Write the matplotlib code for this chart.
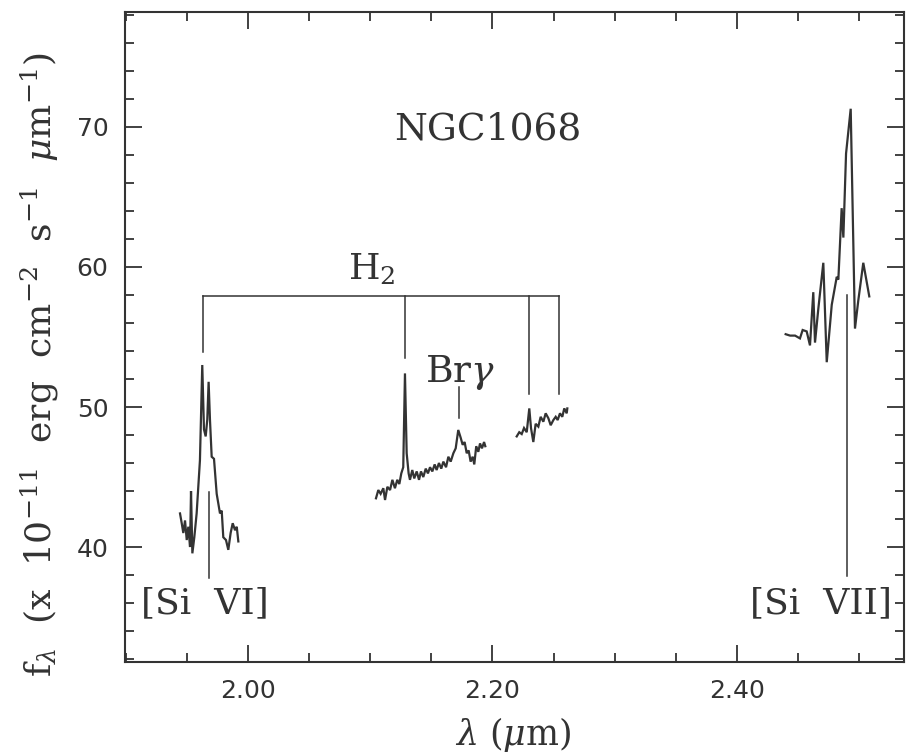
import matplotlib
matplotlib.use("Agg")
import matplotlib.pyplot as plt
from matplotlib.ticker import MultipleLocator, FixedLocator

plt.rcParams['mathtext.fontset'] = 'dejavuserif'
plt.rcParams['font.family'] = 'DejaVu Serif'

# ---- data ----
sivi_wl = [1.9444, 1.9458, 1.9471, 1.9485, 1.9499, 1.9512, 1.9526, 1.9534, 1.9545, 1.9561,
           1.9580, 1.9607, 1.9626, 1.9640, 1.9654, 1.9667, 1.9678, 1.9689, 1.9703, 1.9722,
           1.9744, 1.9771, 1.9785, 1.9798, 1.9820, 1.9839, 1.9858, 1.9875, 1.9894, 1.9908, 1.9921]
sivi_flux = [42.4, 41.7, 41.0, 41.9, 40.5, 41.45, 40.0, 44.0, 39.55, 40.7,
             42.4, 46.2, 53.0, 48.4, 47.9, 49.1, 51.8, 49.1, 46.45, 46.3,
             43.8, 42.4, 42.6, 40.7, 40.5, 39.8, 41.0, 41.7, 41.2, 41.45, 40.4]

h2_wl = [2.1047, 2.1066, 2.1085, 2.1107, 2.1121, 2.1140, 2.1162, 2.1181, 2.1202, 2.1221,
         2.1238, 2.1254, 2.1270, 2.1284, 2.1298, 2.1314, 2.1325, 2.1344, 2.1360, 2.1380,
         2.1399, 2.1415, 2.1434, 2.1454, 2.1472, 2.1489, 2.1508, 2.1527, 2.1543, 2.1562,
         2.1581, 2.1598, 2.1620, 2.1639, 2.1658, 2.1680, 2.1699, 2.1720, 2.1740, 2.1756,
         2.1772, 2.1789, 2.1805, 2.1821, 2.1838, 2.1851, 2.1867, 2.1884, 2.1898, 2.1914,
         2.1931, 2.1941]
h2_flux = [43.48, 44.07, 43.8, 44.2, 43.36, 44.3, 44.07, 44.8, 44.2, 44.8,
           44.5, 45.26, 45.7, 52.4, 46.7, 45.26, 44.8, 45.5, 44.9, 45.4,
           44.8, 45.4, 45.0, 45.6, 45.26, 45.7, 45.4, 45.9, 45.5, 46.0,
           45.6, 46.1, 45.7, 46.45, 46.1, 46.7, 47.05, 48.36, 47.8, 47.3,
           47.5, 46.7, 46.9, 46.1, 46.45, 45.9, 47.2, 46.8, 47.4, 47.05,
           47.5, 47.2]

k_wl = [2.2198, 2.2219, 2.2239, 2.2258, 2.2280, 2.2301, 2.2315, 2.2334, 2.2353, 2.2375,
        2.2394, 2.2416, 2.2435, 2.2457, 2.2476, 2.2498, 2.2517, 2.2533, 2.2552, 2.2571,
        2.2587, 2.2607, 2.2612]
k_flux = [47.9, 48.2, 48.07, 48.5, 48.2, 49.9, 48.5, 47.5, 48.8, 48.6,
          49.3, 48.95, 49.55, 49.2, 48.7, 49.07, 49.3, 49.07, 49.55, 49.3,
          49.9, 49.55, 49.9]

sivii_wl = [2.4398, 2.4434, 2.4475, 2.4515, 2.4537, 2.4570, 2.4597, 2.4624, 2.4638, 2.4665,
            2.4706, 2.4734, 2.4775, 2.4816, 2.4829, 2.4856, 2.4870, 2.4892, 2.4930, 2.4965,
            2.4992, 2.5033, 2.5082]
sivii_flux = [55.2, 55.1, 55.1, 54.9, 55.5, 55.4, 54.4, 58.2, 54.6, 57.0,
              60.3, 53.2, 57.3, 59.3, 59.1, 64.2, 62.1, 68.1, 71.3, 55.6,
              57.6, 60.3, 57.9]

# line identifications
h2_lines = [1.9632, 2.1284, 2.2301, 2.2547]
h2_line_bottom = [53.9, 53.5, 50.9, 50.9]
h2_bar_level = 57.9
brg_line = 2.1726
brg_range = [49.2, 51.4]
sivi_line = 1.9678
sivi_range = [37.8, 43.9]
sivii_line = 2.4902
sivii_range = [37.9, 58.0]

x_major = [2.00, 2.20, 2.40]
x_major_labels = ['2.00', '2.20', '2.40']
y_major = [40, 50, 60, 70]
y_major_labels = ['40', '50', '60', '70']

col = '#333333'

fig = plt.figure(figsize=(9.07, 7.53), dpi=100)
ax = fig.add_axes([125/907, 1-662/753, (904-125)/907, (662-12)/753])

for wl, fl in [(sivi_wl, sivi_flux), (h2_wl, h2_flux), (k_wl, k_flux), (sivii_wl, sivii_flux)]:
    ax.plot(wl, fl, color=col, lw=1.6, solid_joinstyle='miter')

# H2 bracket
ax.plot([h2_lines[0], h2_lines[-1]], [h2_bar_level, h2_bar_level], color=col, lw=1.1)
for x, yb in zip(h2_lines, h2_line_bottom):
    ax.plot([x, x], [yb, h2_bar_level], color=col, lw=1.1)
ax.plot([brg_line, brg_line], brg_range, color=col, lw=1.1)
ax.plot([sivi_line, sivi_line], sivi_range, color=col, lw=1.1)
ax.plot([sivii_line, sivii_line], sivii_range, color=col, lw=1.1)

ax.text(2.1014, 59.8, r'H$_2$', ha='center', va='center', color=col, fontsize=26)
ax.text(2.1734, 52.5, r'Br$\gamma$', ha='center', va='center', color=col, fontsize=27)
ax.text(1.9650, 36.0, '[Si  VI]', ha='center', va='center', color=col, fontsize=26)
ax.text(2.4690, 36.0, '[Si  VII]', ha='center', va='center', color=col, fontsize=26)
ax.text(2.1960, 69.8, 'NGC1068', ha='center', va='center', color=col, fontsize=27)

ax.set_xlim(1.8994, 2.5366)
ax.set_ylim(31.79, 78.21)

ax.xaxis.set_major_locator(FixedLocator(x_major))
ax.set_xticklabels(x_major_labels)
ax.xaxis.set_minor_locator(MultipleLocator(0.05))
ax.yaxis.set_major_locator(FixedLocator(y_major))
ax.set_yticklabels(y_major_labels)
ax.yaxis.set_minor_locator(MultipleLocator(2))

ax.tick_params(which='both', direction='in', top=True, right=True, color=col,
               labelcolor=col, width=1.3)
ax.tick_params(which='major', length=12, labelsize=18, pad=12)
ax.tick_params(which='minor', length=6.5)
for lab in ax.get_xticklabels() + ax.get_yticklabels():
    lab.set_family('DejaVu Sans')
for s in ax.spines.values():
    s.set_color(col)
    s.set_linewidth(1.5)

fig.text(513/907, 1-735/753, r'$\lambda$ ($\mu$m)', ha='center', va='center',
         color=col, fontsize=25)
fig.text(40/907, 1-365/753,
         r'f$_\lambda$  (x  10$^{-11}$  erg  cm$^{-2}$  s$^{-1}$  $\mu$m$^{-1}$)',
         ha='center', va='center', rotation=90, color=col, fontsize=26)

fig.savefig('out.png', dpi=100, facecolor='white')
